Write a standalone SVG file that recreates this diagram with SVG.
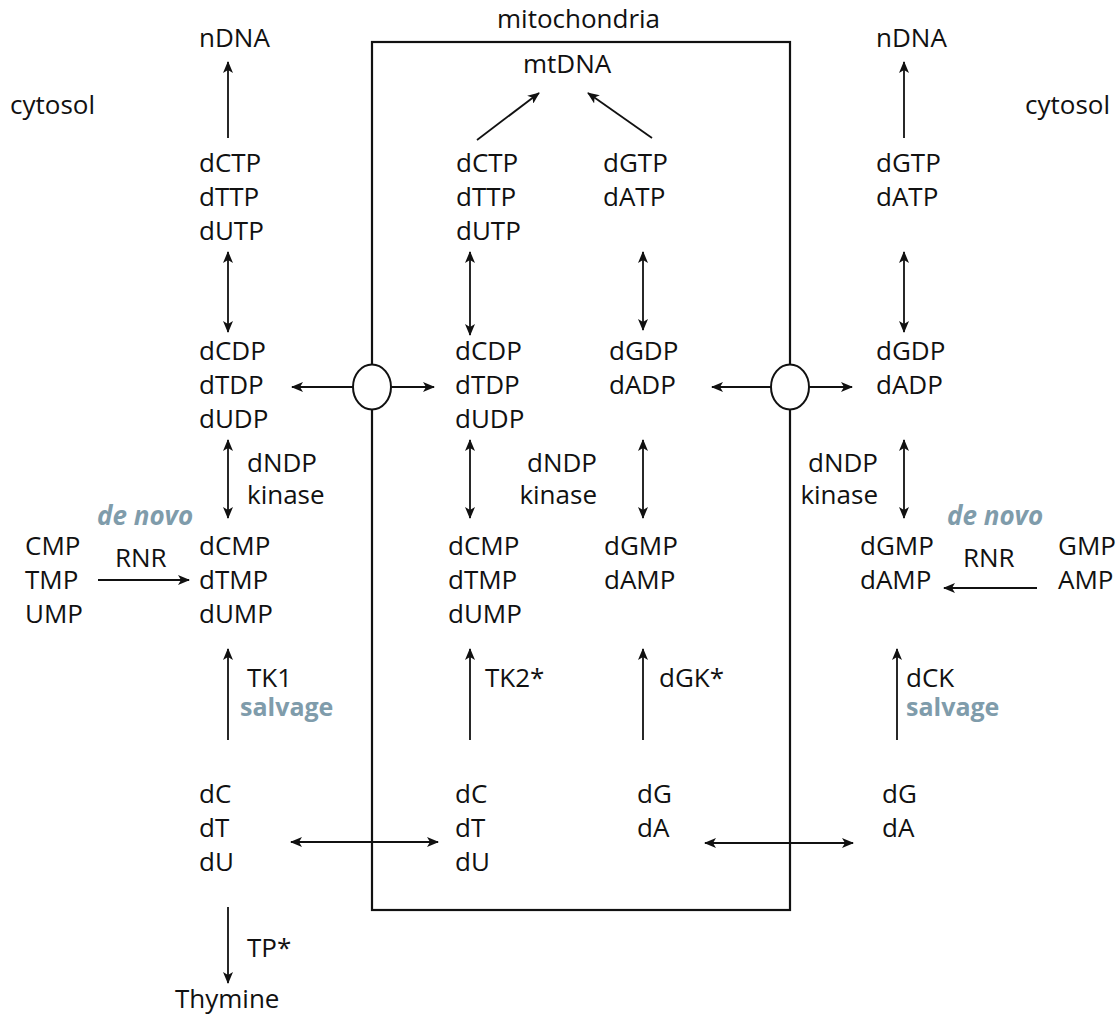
<svg xmlns="http://www.w3.org/2000/svg" width="1119" height="1019" viewBox="0 0 1119 1019">
<style>
text{font-family:"Open Sans","Noto Sans",sans-serif;font-size:26px;fill:#111}
.r{text-anchor:end}
.hl{font-weight:bold;fill:#7f9cab}
.sv{font-size:25px}
.it{font-style:italic}
.ln{stroke:#111;stroke-width:1.8;fill:none}
.dbl{marker-start:url(#a);marker-end:url(#a)}
.one{marker-end:url(#a)}
</style>
<defs>
<marker id="a" viewBox="0 0 12 10" refX="11" refY="5" markerWidth="12" markerHeight="10" markerUnits="userSpaceOnUse" orient="auto-start-reverse">
<path d="M0,0 L12,5 L0,10 L3,5 z" fill="#111"/>
</marker>
</defs>
<rect x="372" y="42" width="418" height="868" fill="none" stroke="#111" stroke-width="2.2"/>
<g id="labels">
<text x="497" y="28">mitochondria</text>
<text x="10" y="114">cytosol</text>
<text x="1025" y="114">cytosol</text>
</g>
<g id="nDNA-left"><text x="199" y="47">nDNA</text></g>
<g id="nDNA-right"><text x="876" y="47">nDNA</text></g>
<g id="mtDNA"><text x="523" y="73">mtDNA</text></g>
<g id="cyt-dNTP-pyr"><text x="199" y="172">dCTP<tspan x="199" dy="34">dTTP</tspan><tspan x="199" dy="34">dUTP</tspan></text></g>
<g id="cyt-dNDP-pyr"><text x="199" y="360">dCDP<tspan x="199" dy="34">dTDP</tspan><tspan x="199" dy="34">dUDP</tspan></text></g>
<g id="cyt-dNMP-pyr"><text x="199" y="555">dCMP<tspan x="199" dy="34">dTMP</tspan><tspan x="199" dy="34">dUMP</tspan></text></g>
<g id="cyt-NMP-pyr"><text x="25" y="555">CMP<tspan x="25" dy="34">TMP</tspan><tspan x="25" dy="34">UMP</tspan></text></g>
<g id="cyt-dN-pyr"><text x="199" y="803">dC<tspan x="199" dy="34">dT</tspan><tspan x="199" dy="34">dU</tspan></text></g>
<g id="thymine"><text x="175" y="1008">Thymine</text></g>
<g id="mt-dNTP-pyr"><text x="456" y="172">dCTP<tspan x="456" dy="34">dTTP</tspan><tspan x="456" dy="34">dUTP</tspan></text></g>
<g id="mt-dNTP-pur"><text x="603" y="172">dGTP<tspan x="603" dy="34">dATP</tspan></text></g>
<g id="mt-dNDP-pyr"><text x="455" y="360">dCDP<tspan x="455" dy="34">dTDP</tspan><tspan x="455" dy="34">dUDP</tspan></text></g>
<g id="mt-dNDP-pur"><text x="609" y="360">dGDP<tspan x="609" dy="34">dADP</tspan></text></g>
<g id="mt-dNMP-pyr"><text x="448" y="555">dCMP<tspan x="448" dy="34">dTMP</tspan><tspan x="448" dy="34">dUMP</tspan></text></g>
<g id="mt-dNMP-pur"><text x="604" y="555">dGMP<tspan x="604" dy="34">dAMP</tspan></text></g>
<g id="mt-dN-pyr"><text x="455" y="803">dC<tspan x="455" dy="34">dT</tspan><tspan x="455" dy="34">dU</tspan></text></g>
<g id="mt-dN-pur"><text x="637" y="803">dG<tspan x="637" dy="34">dA</tspan></text></g>
<g id="cytr-dNTP-pur"><text x="876" y="172">dGTP<tspan x="876" dy="34">dATP</tspan></text></g>
<g id="cytr-dNDP-pur"><text x="876" y="360">dGDP<tspan x="876" dy="34">dADP</tspan></text></g>
<g id="cytr-dNMP-pur"><text x="860" y="555">dGMP<tspan x="860" dy="34">dAMP</tspan></text></g>
<g id="cytr-NMP-pur"><text x="1058" y="555">GMP<tspan x="1058" dy="34">AMP</tspan></text></g>
<g id="cytr-dN-pur"><text x="882" y="803">dG<tspan x="882" dy="34">dA</tspan></text></g>
<g id="transporter-left"><ellipse cx="372" cy="387" rx="19" ry="22.5" fill="#fff" stroke="#111" stroke-width="2"/></g>
<g id="transporter-right"><ellipse cx="790" cy="387" rx="19" ry="22.5" fill="#fff" stroke="#111" stroke-width="2"/></g>
<g id="connectors">
<line class="ln one" x1="228" y1="138" x2="228" y2="62"/>
<line class="ln one" x1="904" y1="138" x2="904" y2="62"/>
<line class="ln one" x1="477" y1="140" x2="539" y2="93"/>
<line class="ln one" x1="652" y1="138" x2="588" y2="93"/>
<line class="ln dbl" x1="228" y1="252" x2="228" y2="332"/>
<line class="ln dbl" x1="470" y1="252" x2="470" y2="335"/>
<line class="ln dbl" x1="643" y1="252" x2="643" y2="330"/>
<line class="ln dbl" x1="904" y1="252" x2="904" y2="332"/>
<line class="ln one" x1="353" y1="387" x2="292" y2="387"/>
<line class="ln one" x1="391" y1="387" x2="434" y2="387"/>
<line class="ln one" x1="771" y1="387" x2="712" y2="387"/>
<line class="ln one" x1="809" y1="387" x2="852" y2="387"/>
<line class="ln dbl" x1="228" y1="440" x2="228" y2="518"/>
<line class="ln dbl" x1="470" y1="440" x2="470" y2="518"/>
<line class="ln dbl" x1="643" y1="440" x2="643" y2="518"/>
<line class="ln dbl" x1="904" y1="440" x2="904" y2="518"/>
<line class="ln one" x1="98" y1="580" x2="189" y2="580"/>
<line class="ln one" x1="1037" y1="588" x2="944" y2="588"/>
<line class="ln one" x1="228" y1="740" x2="228" y2="649"/>
<line class="ln one" x1="470" y1="740" x2="470" y2="649"/>
<line class="ln one" x1="643" y1="740" x2="643" y2="649"/>
<line class="ln one" x1="897" y1="740" x2="897" y2="649"/>
<line class="ln dbl" x1="291" y1="842" x2="438" y2="842"/>
<line class="ln dbl" x1="705" y1="843" x2="853" y2="843"/>
<line class="ln one" x1="228" y1="907" x2="228" y2="983"/>
</g>
<g id="edge-labels">
<text x="247" y="472">dNDP<tspan x="247" dy="32">kinase</tspan></text>
<text class="r" x="597" y="472">dNDP<tspan x="597" dy="32">kinase</tspan></text>
<text class="r" x="878" y="472">dNDP<tspan x="878" dy="32">kinase</tspan></text>
<text x="115" y="567">RNR</text>
<text x="963" y="567">RNR</text>
<text class="hl it" x="97" y="525">de novo</text>
<text class="hl it" x="947" y="525">de novo</text>
<text x="247" y="687">TK1</text>
<text class="hl sv" x="240" y="716">salvage</text>
<text x="485" y="687">TK2*</text>
<text x="659" y="687">dGK*</text>
<text x="906" y="687">dCK</text>
<text class="hl sv" x="906" y="716">salvage</text>
<text x="247" y="957">TP*</text>
</g>
</svg>
